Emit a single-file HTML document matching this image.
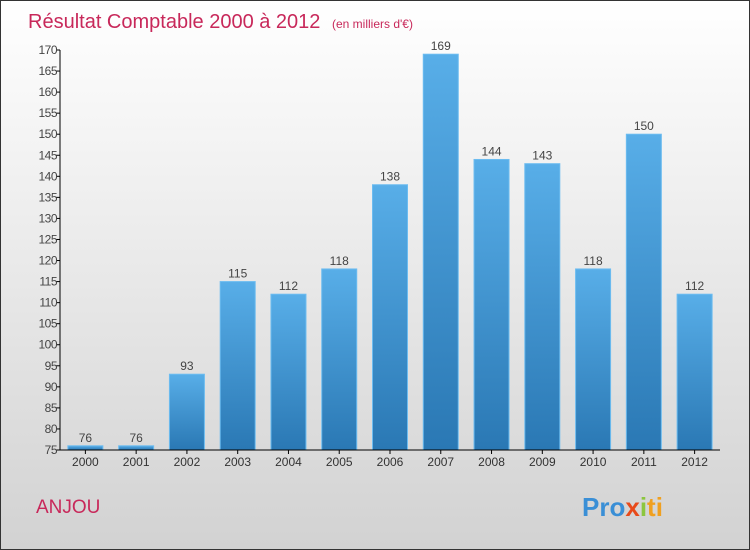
<!DOCTYPE html>
<html><head><meta charset="utf-8"><style>
body{margin:0}
svg{display:block;font-family:"Liberation Sans",sans-serif}
</style></head><body>
<svg id="chart" width="750" height="550" xmlns="http://www.w3.org/2000/svg">
<defs>
<linearGradient id="bg" x1="0" y1="0" x2="0" y2="1"><stop offset="0" stop-color="#ffffff"/><stop offset="1" stop-color="#d2d2d2"/></linearGradient>
<linearGradient id="bar" x1="0" y1="0" x2="0" y2="1"><stop offset="0" stop-color="#58aee8"/><stop offset="1" stop-color="#2a78b4"/></linearGradient>
</defs>
<rect x="0.5" y="0.5" width="749" height="549" fill="url(#bg)" stroke="#333"/>
<text x="28" y="28" font-size="20" fill="#c8285a">Résultat Comptable 2000 à 2012 <tspan font-size="12" dx="6">(en milliers d'€)</tspan></text>
<text x="36" y="513" font-size="19" fill="#c8285a">ANJOU</text>
<text x="582" y="516" font-size="26" font-weight="bold"><tspan fill="#3a8fd6">Pro</tspan><tspan fill="#e84a1a">x</tspan><tspan fill="#8cc63e">i</tspan><tspan fill="#f0a020">ti</tspan></text>
<g id="plot"></g>
</svg>
<script>
const categories=["2000","2001","2002","2003","2004","2005","2006","2007","2008","2009","2010","2011","2012"];
const values=[76,76,93,115,112,118,138,169,144,143,118,150,112];
const yTicks=[75,80,85,90,95,100,105,110,115,120,125,130,135,140,145,150,155,160,165,170];
const NS="http://www.w3.org/2000/svg";
const x0=60,x1=720,y0=450,y1=50,vmin=75,vmax=170;
const band=(x1-x0)/categories.length;
const y=v=>y0-(v-vmin)/(vmax-vmin)*(y0-y1);
const xc=i=>x0+band*(i+0.5);
const g=document.getElementById('plot');
function mk(t,a){const e=document.createElementNS(NS,t);for(const k in a)e.setAttribute(k,a[k]);g.appendChild(e);return e;}
values.forEach((v,i)=>{
 const r=mk('rect',{x:xc(i)-17.5,y:y(v),width:35,height:y0-y(v),fill:'url(#bar)',stroke:'#6cbcf0','stroke-width':1});
 
 
 const t=mk('text',{x:xc(i),y:y(v)-4,'text-anchor':'middle','font-size':12,fill:'#444'});
 t.textContent=v;
 
 
 const tk=mk('line',{x1:xc(i),x2:xc(i),y1:y0,y2:y0+4,stroke:'#000'});
 
 
 const l=mk('text',{x:xc(i),y:y0+16,'text-anchor':'middle','font-size':12,fill:'#333'});
 l.textContent=categories[i];
 
 
});
yTicks.forEach(v=>{
 const tk=mk('line',{x1:x0-4,x2:x0,y1:y(v),y2:y(v),stroke:'#000'});
 
 
 const l=mk('text',{x:x0-3,y:y(v)+4,'text-anchor':'end','font-size':12,fill:'#444','letter-spacing':'-0.5'});
 l.textContent=v;
 
 
});
const ya=mk('line',{x1:x0,x2:x0,y1:y1,y2:y0,stroke:'#000'});


const xa=mk('line',{x1:x0,x2:x1,y1:y0,y2:y0,stroke:'#000'});


</script>
</body></html>
